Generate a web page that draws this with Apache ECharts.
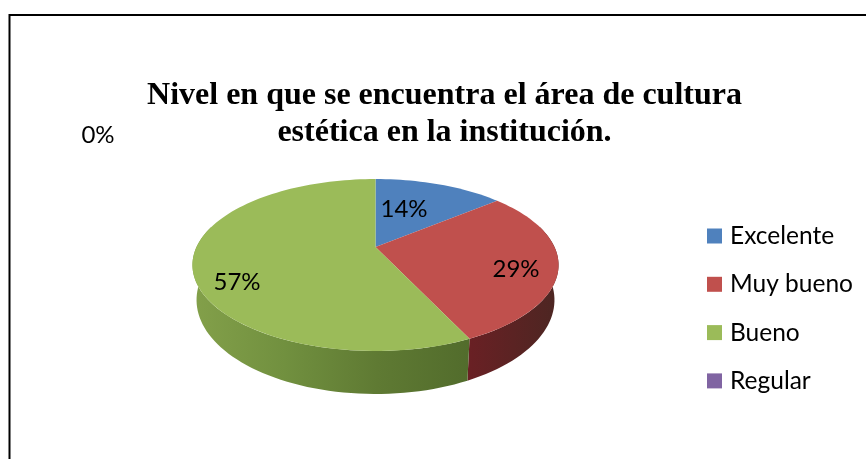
<!DOCTYPE html>
<html><head><meta charset="utf-8">
<style>html,body{margin:0;padding:0;background:#fff}#c{width:866px;height:459px}</style>
<script src="https://cdn.jsdelivr.net/npm/echarts@6/dist/echarts.min.js"></script>
</head><body><div id="c"></div>
<script>
const titleLines = ['Nivel en que se encuentra el área de cultura', 'estética en la institución.'];
const categories = ['Excelente', 'Muy bueno', 'Bueno', 'Regular'];
const percentValues = [14, 29, 57, 0];

const colors = ['#4f81bd', '#c0504d', '#9bbb59', '#8064a2'];
const sideStops = [
  ['#3b5f8c', '#3b5f8c'],
  ['#6a2024', '#4c2622'],
  ['#83a04a', '#71903f', '#5f7a33', '#526c2c'],
  ['#5f4a79', '#5f4a79']
];
// tilted-disc projection of the pie (apex, half-axes, perspective)
const topFace = {cx: 375.5, cy: 247, a: 179, b: 82.2, k: 0.2093};
const baseFace = {cx: 375.5, cy: 280.3, a: 175, b: 89.9, k: 0.2093};
const labelAnchors = [[404, 209], [516, 269], [237, 282], [98, 135]];
const total = percentValues.reduce((s, v) => s + v, 0);

function project(face, deg) {
  const t = deg * Math.PI / 180, u = Math.sin(t), v = -Math.cos(t), w = 1 - face.k * v;
  return [face.cx + face.a * u / w, face.cy + face.b * v / w];
}
function arc(face, from, to) {
  const pts = [], n = Math.max(2, Math.ceil(Math.abs(to - from) / 2));
  for (let i = 0; i <= n; i++) pts.push(project(face, from + (to - from) * i / n));
  return pts;
}
function sliceItem(index) {
  return function () {
    const start = percentValues.slice(0, index).reduce((s, v) => s + v, 0) / total * 360;
    const end = start + percentValues[index] / total * 360;
    const children = [];
    if (end > start) {
      const from = Math.max(start, 75), to = Math.min(end, 285);
      if (to > from) {
        const top = arc(topFace, from, to), base = arc(baseFace, from, to).reverse();
        const stops = sideStops[index];
        children.push({
          type: 'polygon', z2: 1,
          shape: {points: top.concat(base)},
          style: {fill: new echarts.graphic.LinearGradient(0, 0, 1, 0,
            stops.map((c, i) => ({offset: i / (stops.length - 1), color: c})))}
        });
      }
      children.push({
        type: 'polygon', z2: 2,
        shape: {points: [[topFace.cx, topFace.cy]].concat(arc(topFace, start, end))},
        style: {fill: colors[index]}
      });
    }
    children.push({
      type: 'text', z2: 5,
      style: {
        x: labelAnchors[index][0], y: labelAnchors[index][1],
        text: percentValues[index] + '%', align: 'center', verticalAlign: 'middle',
        fill: '#000', font: '24px Lato'
      }
    });
    return {type: 'group', children};
  };
}

const chart = echarts.init(document.getElementById('c'), null, {renderer: 'canvas'});
chart.setOption({
  animation: false,
  backgroundColor: '#fff',
  title: {
    text: titleLines.join('\n'), left: 439.5, top: 72, textAlign: 'center',
    textStyle: {fontFamily: 'Liberation Serif', fontWeight: 'bold', fontSize: 32, lineHeight: 37, color: '#000'}
  },
  legend: {
    data: categories, orient: 'vertical', left: 707, top: 223.5, padding: 0,
    itemWidth: 15, itemHeight: 15, itemGap: 23.3, icon: 'rect',
    textStyle: {fontFamily: 'Lato', fontSize: 24.5, lineHeight: 15, color: '#000', padding: [0, 0, 0, 3]}
  },
  graphic: [
    {type: 'line', shape: {x1: 9, y1: 15, x2: 866, y2: 15}, style: {stroke: '#000', lineWidth: 2}},
    {type: 'line', shape: {x1: 9.5, y1: 14, x2: 9.5, y2: 459}, style: {stroke: '#000', lineWidth: 2}}
  ],
  series: categories.map((name, i) => ({
    type: 'custom', name, coordinateSystem: 'none',
    itemStyle: {color: colors[i]},
    data: [[percentValues[i]]],
    renderItem: sliceItem(i), silent: true
  }))
});
</script></body></html>
